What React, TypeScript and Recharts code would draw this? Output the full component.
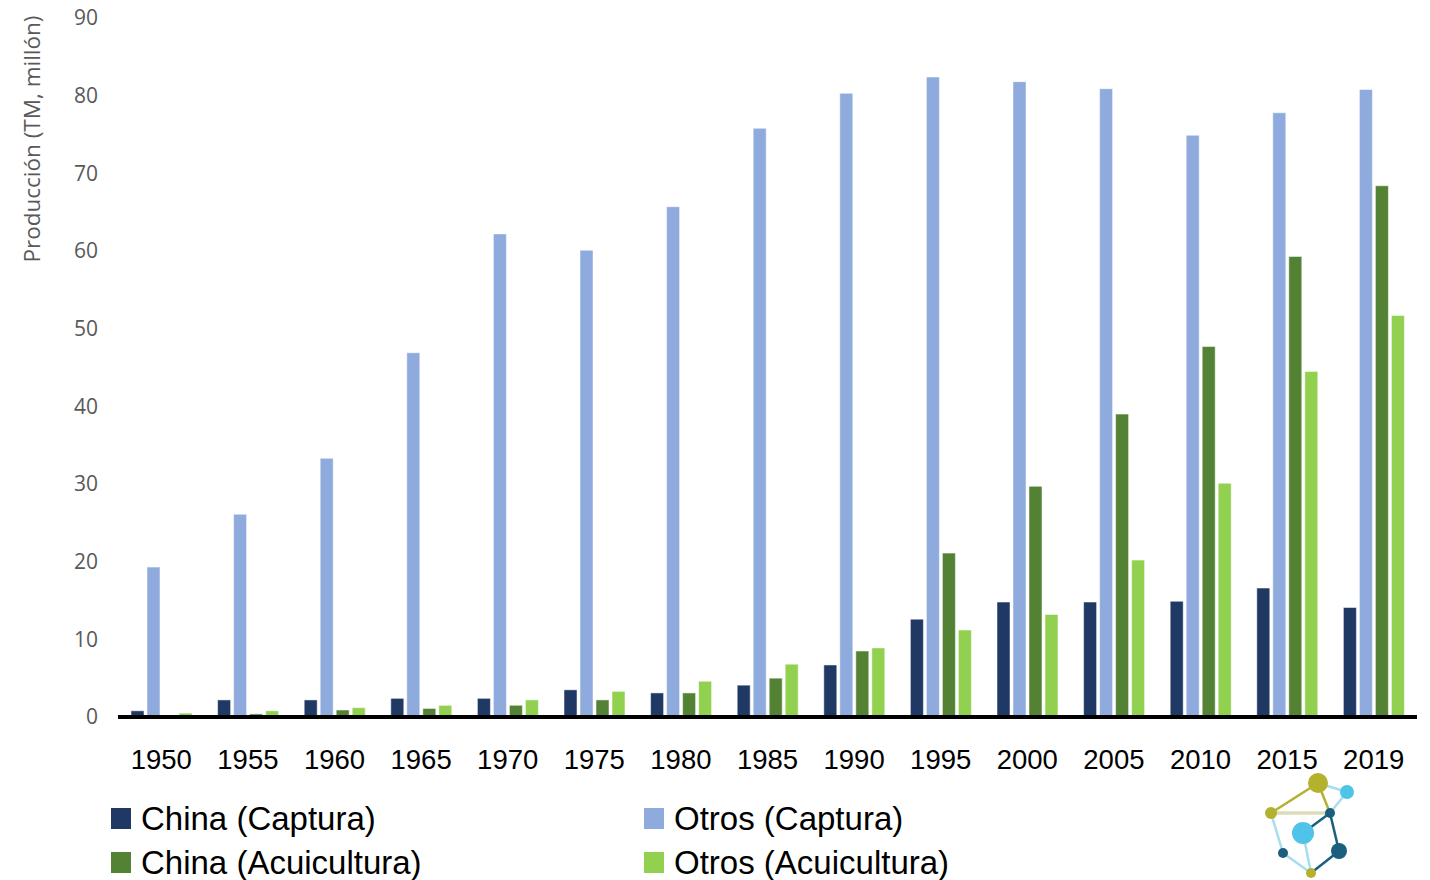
import React from 'react'
import { BarChart, Bar, XAxis, YAxis, Legend } from 'recharts'

const years = ['1950', '1955', '1960', '1965', '1970', '1975', '1980', '1985', '1990', '1995', '2000', '2005', '2010', '2015', '2019']
const chinaCaptura = [0.8, 2.2, 2.2, 2.4, 2.4, 3.5, 3.1, 4.1, 6.7, 12.6, 14.8, 14.8, 14.9, 16.6, 14.1]
const otrosCaptura = [19.3, 26.1, 33.3, 46.9, 62.2, 60.1, 65.7, 75.8, 80.3, 82.4, 81.8, 80.9, 74.9, 77.8, 80.8]
const chinaAcuicultura = [0.1, 0.4, 0.9, 1.1, 1.5, 2.2, 3.1, 5.0, 8.5, 21.1, 29.7, 39.0, 47.7, 59.3, 68.4]
const otrosAcuicultura = [0.5, 0.8, 1.2, 1.5, 2.2, 3.3, 4.6, 6.8, 8.9, 11.2, 13.2, 20.2, 30.1, 44.5, 51.7]
const yTicks = [0, 10, 20, 30, 40, 50, 60, 70, 80, 90]

const series = [
  { key: 'chinaCaptura', name: 'China (Captura)', color: '#1F3864' },
  { key: 'otrosCaptura', name: 'Otros (Captura)', color: '#8FAADC' },
  { key: 'chinaAcuicultura', name: 'China (Acuicultura)', color: '#548235' },
  { key: 'otrosAcuicultura', name: 'Otros (Acuicultura)', color: '#92D050' },
]

const data = years.map((year, i) => ({
  year,
  chinaCaptura: chinaCaptura[i],
  otrosCaptura: otrosCaptura[i],
  chinaAcuicultura: chinaAcuicultura[i],
  otrosAcuicultura: otrosAcuicultura[i],
}))

const legendFont = "'Liberation Sans', Arial, sans-serif"
const axisFont = "'Open Sans', sans-serif"

// legend order: left column China, right column Otros
const legendSpots = [
  { key: 'chinaCaptura', left: 111, top: 41 },
  { key: 'otrosCaptura', left: 644, top: 41 },
  { key: 'chinaAcuicultura', left: 111, top: 85 },
  { key: 'otrosAcuicultura', left: 644, top: 85 },
]

function LegendContent() {
  return (
    <div style={{ position: 'relative', width: 1000, height: 113 }}>
      {legendSpots.map((spot) => {
        const s = series.find((x) => x.key === spot.key)!
        return (
          <div key={spot.key} style={{ position: 'absolute', left: spot.left, top: spot.top, display: 'flex', alignItems: 'center', height: 21 }}>
            <span style={{ width: 20, height: 21, background: s.color, display: 'inline-block' }} />
            <span style={{ marginLeft: 10, fontFamily: legendFont, fontSize: 33, color: '#000', lineHeight: '21px', whiteSpace: 'nowrap' }}>
              {s.name}
            </span>
          </div>
        )
      })}
    </div>
  )
}

function YLabel() {
  return (
    <text x={31} y={139} transform="rotate(-90 31 139)" textAnchor="middle" dominantBaseline="central"
      fill="#595959" fontSize={22.5} fontFamily={axisFont}>
      Producción (TM, millón)
    </text>
  )
}

function Logo() {
  const olive = '#B3B12E'
  const sky = '#4FC3E8'
  const teal = '#1B5E7E'
  const pale = '#A8DDEF'
  const p = {
    top: [1318, 783], sky: [1347, 792], left: [1271, 813], mid: [1330, 813],
    big: [1303, 833], bl: [1283, 853], br: [1339, 851], bot: [1311, 873],
  } as Record<string, number[]>
  const lines: Array<[string, string, string, number]> = [
    ['top', 'sky', pale, 2.5], ['top', 'left', olive, 2.5], ['left', 'mid', '#DCDDB8', 3.5],
    ['top', 'mid', olive, 2.5], ['sky', 'mid', pale, 2.5], ['left', 'bl', pale, 2.5],
    ['mid', 'big', teal, 2.5], ['mid', 'br', teal, 2.5], ['big', 'bot', pale, 2.5],
    ['bl', 'bot', pale, 2.5], ['br', 'bot', teal, 2.5],
  ]
  const dots: Array<[string, number, string]> = [
    ['top', 10, olive], ['sky', 7, sky], ['left', 6, olive], ['mid', 5, teal],
    ['big', 11, sky], ['bl', 5, teal], ['br', 8, teal], ['bot', 5, olive],
  ]
  return (
    <svg width={1430} height={880} style={{ position: 'absolute', left: 0, top: 0, pointerEvents: 'none' }}>
      {lines.map(([a, b, c, w], i) => (
        <line key={i} x1={p[a][0]} y1={p[a][1]} x2={p[b][0]} y2={p[b][1]} stroke={c} strokeWidth={w} />
      ))}
      {dots.map(([k, r, c]) => (
        <circle key={k} cx={p[k][0]} cy={p[k][1]} r={r} fill={c} />
      ))}
    </svg>
  )
}

export default function App() {
  return (
    <div style={{ position: 'absolute', left: 0, top: 0, width: 1430, height: 880, background: '#fff' }}>
      <BarChart width={1430} height={880} data={data} barSize={13} barGap={3}
        margin={{ top: 18, right: 13, bottom: 0, left: 0 }}>
        <XAxis dataKey="year" height={50} tickLine={false} tickSize={0} tickMargin={32}
          axisLine={{ stroke: '#000', strokeWidth: 4 }}
          tick={{ fontSize: 27.5, fill: '#000', fontFamily: legendFont }} interval={0} />
        <YAxis width={118} domain={[0, 90]} ticks={yTicks} axisLine={false} tickLine={false}
          tickSize={0} tickMargin={20} tick={{ fontSize: 21, fill: '#595959', fontFamily: axisFont }}
          label={<YLabel />} />
        <Legend verticalAlign="bottom" height={113} content={() => <LegendContent />} />
        {series.map((s) => (
          <Bar key={s.key} dataKey={s.key} name={s.name} fill={s.color} stroke="#ffffff" strokeOpacity={0.5}
            strokeWidth={1} isAnimationActive={false} />
        ))}
      </BarChart>
      <Logo />
    </div>
  )
}
